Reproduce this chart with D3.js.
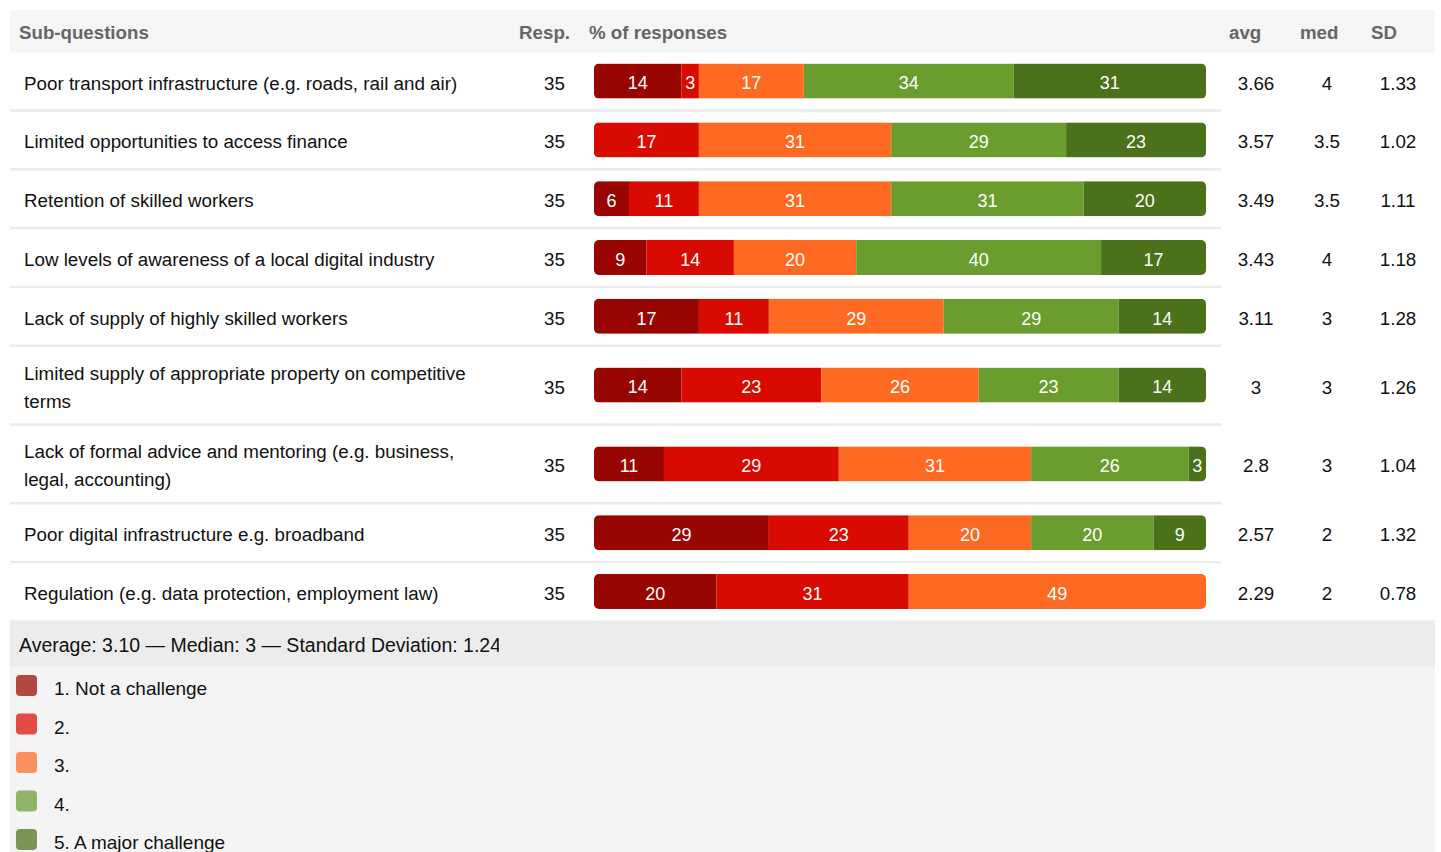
<!DOCTYPE html>
<html>
<head>
<meta charset="utf-8">
<script src="https://cdn.jsdelivr.net/npm/d3@7"></script>
<style>
  html, body { margin: 0; padding: 0; background: #fff; }
  svg { display: block; font-family: "Liberation Sans", Arial, sans-serif; }
</style>
</head>
<body>
<svg id="chart" width="1441" height="852"></svg>
<script>
// sub-questions (one row each)
const questions = [
  "Poor transport infrastructure (e.g. roads, rail and air)",
  "Limited opportunities to access finance",
  "Retention of skilled workers",
  "Low levels of awareness of a local digital industry",
  "Lack of supply of highly skilled workers",
  "Limited supply of appropriate property on competitive terms",
  "Lack of formal advice and mentoring (e.g. business, legal, accounting)",
  "Poor digital infrastructure e.g. broadband",
  "Regulation (e.g. data protection, employment law)"
];
const responses = [35, 35, 35, 35, 35, 35, 35, 35, 35];

// answer counts per scale point (out of responses)
const notAChallenge  = [5, 0, 2, 3, 6, 5, 4, 10, 7];
const level2         = [1, 6, 4, 5, 4, 8, 10, 8, 11];
const level3         = [6, 11, 11, 7, 10, 9, 11, 7, 17];
const level4         = [12, 10, 11, 14, 10, 8, 9, 7, 0];
const majorChallenge = [11, 8, 7, 6, 5, 5, 1, 3, 0];

const avgs = ["3.66", "3.57", "3.49", "3.43", "3.11", "3", "2.8", "2.57", "2.29"];
const meds = ["4", "3.5", "3.5", "4", "3", "3", "3", "2", "2"];
const sds  = ["1.33", "1.02", "1.11", "1.18", "1.28", "1.26", "1.04", "1.32", "0.78"];

const legendLabels = ["1. Not a challenge", "2.", "3.", "4.", "5. A major challenge"];
const summaryText = "Average: 3.10 \u2014 Median: 3 \u2014 Standard Deviation: 1.24";

const keys = ["k1", "k2", "k3", "k4", "k5"];
const colors = d3.scaleOrdinal().domain(keys)
  .range(["#990500", "#d90b00", "#ff6a22", "#6b9c2e", "#4b711a"]);

const svg = d3.select("#chart");

const rows = questions.map((q, i) => ({
  q, resp: responses[i],
  k1: notAChallenge[i], k2: level2[i], k3: level3[i], k4: level4[i], k5: majorChallenge[i],
  avg: avgs[i], med: meds[i], sd: sds[i]
}));

// word-wrap row labels
const measure = svg.append("text").attr("font-size", "18.8px");
function wrap(str, maxW) {
  const words = str.split(" ");
  const lines = [];
  let cur = "";
  words.forEach(w => {
    const test = cur ? cur + " " + w : w;
    measure.text(test);
    if (cur && measure.node().getComputedTextLength() > maxW) {
      lines.push(cur);
      cur = w;
    } else cur = test;
  });
  lines.push(cur);
  return lines;
}
rows.forEach(r => { r.lines = wrap(r.q, 480); });
measure.remove();

// row positions
const headerTop = 10, headerBottom = 52.7;
let yy = 51.7;
rows.forEach(r => {
  r.h = r.lines.length > 1 ? 78.8 : 58.8;
  r.y0 = yy;
  r.cy = yy + r.h / 2;
  yy += r.h;
});
const tableBottom = yy;
const textShift = 2;

// header
svg.append("rect").attr("x", 10).attr("y", headerTop)
  .attr("width", 1425).attr("height", headerBottom - headerTop).attr("fill", "#f5f5f5");
const head = svg.append("g").attr("font-size", "18.7px").attr("font-weight", "bold").attr("fill", "#666");
const hy = (headerTop + headerBottom) / 2 + 1.5;
head.append("text").attr("x", 19).attr("y", hy).attr("dy", "0.35em").text("Sub-questions");
head.append("text").attr("x", 570).attr("y", hy).attr("dy", "0.35em").attr("text-anchor", "end").text("Resp.");
head.append("text").attr("x", 589).attr("y", hy).attr("dy", "0.35em").text("% of responses");
head.append("text").attr("x", 1229).attr("y", hy).attr("dy", "0.35em").text("avg");
head.append("text").attr("x", 1300).attr("y", hy).attr("dy", "0.35em").text("med");
head.append("text").attr("x", 1371).attr("y", hy).attr("dy", "0.35em").text("SD");

// dividers
svg.selectAll("line.div").data(rows.slice(1)).enter().append("line")
  .attr("x1", 10).attr("x2", 1221)
  .attr("y1", d => d.y0).attr("y2", d => d.y0)
  .attr("stroke", "#ebebeb").attr("stroke-width", 2.4);

// scales
const x = d3.scaleLinear().domain([0, 35]).range([594, 1206]);
const barH = 35;

const stack = d3.stack().keys(keys);
const series = stack(rows);

const defs = svg.append("defs");
rows.forEach((r, i) => {
  defs.append("clipPath").attr("id", "bar" + i)
    .append("rect").attr("x", x(0)).attr("y", r.cy - barH / 2)
    .attr("width", x(r.resp) - x(0)).attr("height", barH).attr("rx", 5);
});

const barG = svg.append("g");
series.forEach(s => {
  barG.selectAll(null).data(s).enter().append("rect")
    .attr("clip-path", (d, i) => "url(#bar" + i + ")")
    .attr("x", d => x(d[0]))
    .attr("y", (d, i) => rows[i].cy - barH / 2)
    .attr("width", d => x(d[1]) - x(d[0]))
    .attr("height", barH)
    .attr("fill", colors(s.key));
  barG.selectAll(null).data(s.filter(d => d[1] > d[0])).enter().append("text")
    .attr("x", d => (x(d[0]) + x(d[1])) / 2)
    .attr("y", d => d.data.cy + 2)
    .attr("dy", "0.35em")
    .attr("text-anchor", "middle")
    .attr("font-size", "18px")
    .attr("fill", "#fff")
    .text(d => Math.round((d[1] - d[0]) / d.data.resp * 100));
});

// row text
const rowG = svg.append("g").attr("font-size", "18.8px").attr("fill", "#111");
rows.forEach(r => {
  const n = r.lines.length;
  const ty = r.cy + textShift;
  r.lines.forEach((ln, j) => {
    rowG.append("text").attr("x", 24)
      .attr("y", ty + (j - (n - 1) / 2) * 28)
      .attr("dy", "0.35em").text(ln);
  });
  rowG.append("text").attr("x", 565).attr("y", ty).attr("dy", "0.35em")
    .attr("text-anchor", "end").text(r.resp);
  rowG.append("text").attr("x", 1256).attr("y", ty).attr("dy", "0.35em")
    .attr("text-anchor", "middle").text(r.avg);
  rowG.append("text").attr("x", 1327).attr("y", ty).attr("dy", "0.35em")
    .attr("text-anchor", "middle").text(r.med);
  rowG.append("text").attr("x", 1398).attr("y", ty).attr("dy", "0.35em")
    .attr("text-anchor", "middle").text(r.sd);
});

// summary band
const sumTop = tableBottom - 0.5, sumBottom = 667;
svg.append("rect").attr("x", 10).attr("y", sumTop).attr("width", 1425)
  .attr("height", sumBottom - sumTop).attr("fill", "#ececec");
defs.append("clipPath").attr("id", "sumclip")
  .append("rect").attr("x", 10).attr("y", sumTop).attr("width", 489).attr("height", sumBottom - sumTop);
svg.append("text").attr("x", 19).attr("y", (sumTop + sumBottom) / 2 + 1).attr("dy", "0.35em")
  .attr("font-size", "19.5px").attr("fill", "#111")
  .attr("clip-path", "url(#sumclip)").text(summaryText);

// legend
svg.append("rect").attr("x", 10).attr("y", sumBottom).attr("width", 1425)
  .attr("height", 852 - sumBottom).attr("fill", "#f4f4f4");
const ly = d3.scalePoint().domain(keys).range([685.5, 839.5]);
const leg = svg.append("g").selectAll("g").data(keys).enter().append("g")
  .attr("transform", k => `translate(0,${ly(k)})`);
leg.append("rect").attr("x", 16).attr("y", -10.5).attr("width", 21).attr("height", 21)
  .attr("rx", 4).attr("fill", k => colors(k)).attr("fill-opacity", 0.72);
leg.append("text").attr("x", 54).attr("y", 3).attr("dy", "0.35em")
  .attr("font-size", "19px").attr("fill", "#111")
  .text((k, i) => legendLabels[i]);
</script>
</body>
</html>
